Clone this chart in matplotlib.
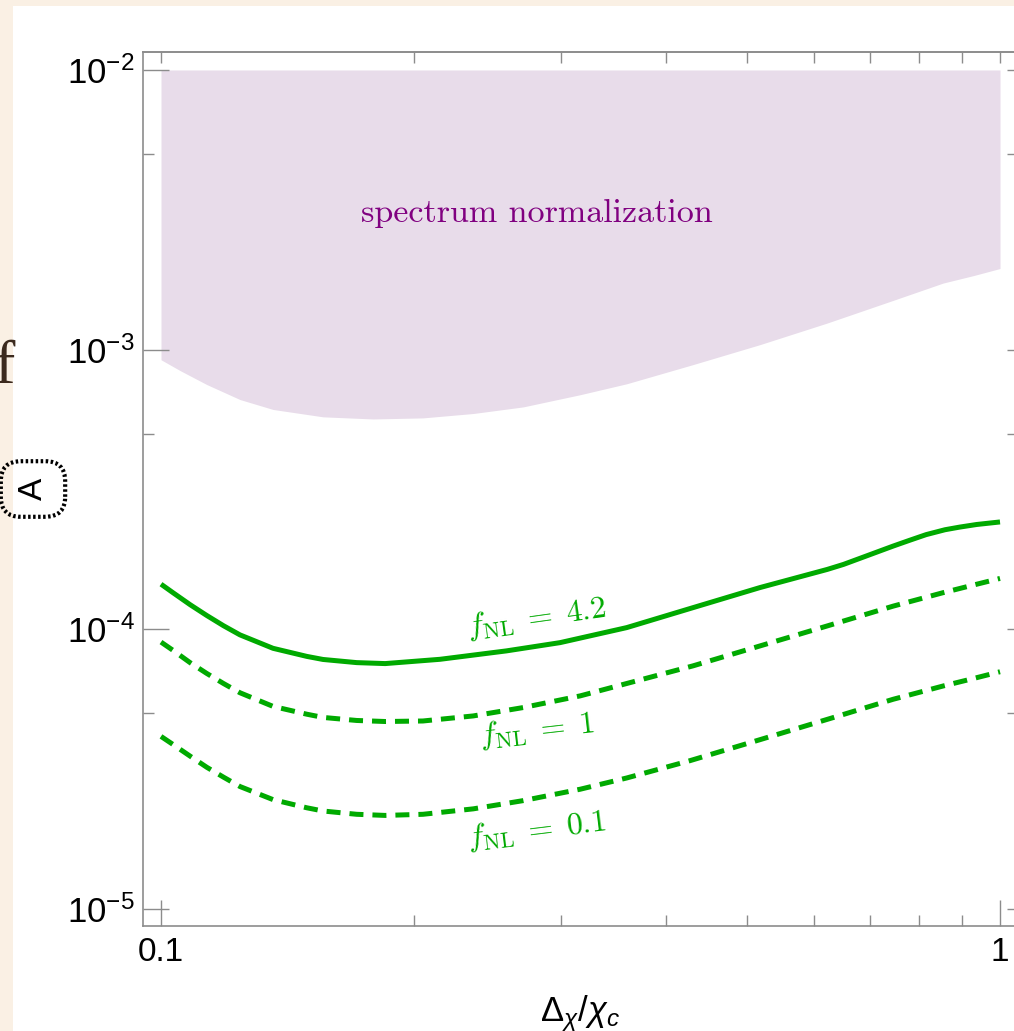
import matplotlib
matplotlib.use("Agg")
import matplotlib.pyplot as plt
from matplotlib.patches import Rectangle
from matplotlib.ticker import NullFormatter

plt.rcParams['font.family'] = ['Liberation Sans', 'DejaVu Sans']
plt.rcParams['mathtext.fontset'] = 'custom'
plt.rcParams['mathtext.rm'] = 'Liberation Sans'
plt.rcParams['mathtext.it'] = 'Liberation Sans:italic'
plt.rcParams['mathtext.bf'] = 'Liberation Sans:bold'

# --- data ---
# lower edge of the "spectrum normalization" region (upper edge is 1e-2)
band_x = [0.1, 0.1055, 0.1134, 0.1242, 0.136, 0.156, 0.179, 0.2052, 0.2356, 0.2702,
          0.316, 0.359, 0.4306, 0.5175, 0.6224, 0.7458, 0.8555, 0.93, 1.0]
band_lower = [9.2e-4, 8.4e-4, 7.5e-4, 6.63e-4, 6.11e-4, 5.75e-4, 5.65e-4, 5.70e-4,
              5.91e-4, 6.24e-4, 6.9e-4, 7.55e-4, 8.84e-4, 1.042e-3, 1.245e-3,
              1.50e-3, 1.73e-3, 1.84e-3, 1.95e-3]
band_upper = [1e-2] * len(band_x)

# f_NL = 4.2 (solid)
x_42 = [0.1, 0.1034, 0.1083, 0.1134, 0.1187, 0.1242, 0.136, 0.1492, 0.156, 0.1711,
        0.185, 0.215, 0.258, 0.299, 0.359, 0.4306, 0.5175, 0.6224, 0.6508, 0.7458,
        0.78, 0.8164, 0.86, 0.8956, 0.938, 1.0]
a_42 = [1.45e-4, 1.35e-4, 1.225e-4, 1.12e-4, 1.03e-4, 9.55e-5, 8.55e-5, 8.0e-5,
        7.8e-5, 7.6e-5, 7.54e-5, 7.81e-5, 8.37e-5, 8.96e-5, 1.014e-4, 1.195e-4,
        1.41e-4, 1.637e-4, 1.706e-4, 1.984e-4, 2.08e-4, 2.18e-4, 2.27e-4, 2.32e-4,
        2.37e-4, 2.42e-4]

# f_NL = 1 (dashed)
x_1 = [0.1, 0.1034, 0.1083, 0.1134, 0.1187, 0.1242, 0.136, 0.1492, 0.156, 0.1711,
       0.185, 0.2052, 0.2356, 0.2702, 0.316, 0.359, 0.4306, 0.5175, 0.6224, 0.7458,
       0.8555, 0.93, 1.0]
a_1 = [9.0e-5, 8.4e-5, 7.6e-5, 6.95e-5, 6.4e-5, 5.93e-5, 5.3e-5, 4.97e-5, 4.84e-5,
       4.72e-5, 4.68e-5, 4.70e-5, 4.9e-5, 5.25e-5, 5.78e-5, 6.4e-5, 7.4e-5, 8.72e-5,
       1.028e-4, 1.21e-4, 1.352e-4, 1.44e-4, 1.52e-4]

# f_NL = 0.1 (dashed)
x_01 = [0.1, 0.1034, 0.1083, 0.1134, 0.1187, 0.1242, 0.136, 0.1492, 0.156, 0.1711,
        0.185, 0.2052, 0.2356, 0.2702, 0.316, 0.359, 0.427, 0.5175, 0.6335, 0.7458,
        0.8555, 0.93, 1.0]
a_01 = [4.14e-5, 3.87e-5, 3.52e-5, 3.21e-5, 2.96e-5, 2.74e-5, 2.46e-5, 2.30e-5,
        2.24e-5, 2.18e-5, 2.16e-5, 2.18e-5, 2.28e-5, 2.44e-5, 2.68e-5, 2.94e-5,
        3.39e-5, 4.03e-5, 4.84e-5, 5.62e-5, 6.27e-5, 6.67e-5, 7.05e-5]

x_major = [0.1, 1]
x_major_labels = ['0.1', '1']
x_minor = [0.2, 0.3, 0.4, 0.5, 0.6, 0.7, 0.8, 0.9]
y_major = [1e-5, 1e-4, 1e-3, 1e-2]
y_major_labels = [r'$10^{-5}$', r'$10^{-4}$', r'$10^{-3}$', r'$10^{-2}$']
y_minor = [5e-5, 5e-4, 5e-3]

GREEN = '#00aa00'
FRAME = '#8c8c8c'

fig = plt.figure(figsize=(10.14, 10.31), dpi=100)
fig.patch.set_facecolor('#faf0e4')
# white panel of the screenshot
fig.patches.append(Rectangle((13 / 1014, 0), 1, 1 - 6 / 1031, transform=fig.transFigure,
                             facecolor='white', edgecolor='none', zorder=-1))

ax = fig.add_axes([0.14103, 0.10184, 0.86292, 0.84772])
ax.set_facecolor('white')
ax.set_xscale('log')
ax.set_yscale('log')
ax.set_xlim(0.09518, 1.0506)
ax.set_ylim(8.69e-6, 1.1594e-2)

ax.fill_between(band_x, band_lower, band_upper, color='#e8dcea', lw=0)
ax.plot(x_42, a_42, color=GREEN, lw=3.6, solid_capstyle='butt', solid_joinstyle='round')
ax.plot(x_1, a_1, color=GREEN, lw=3.6, dashes=(2.8, 1.8), dash_capstyle='butt')
ax.plot(x_01, a_01, color=GREEN, lw=3.6, dashes=(2.8, 1.8), dash_capstyle='butt')

ax.text(0.2806, 3.08e-3, 'spectrum normalization', family='cmr10', fontsize=24.5,
        color='#800080', ha='center', va='center')
lab = dict(math_fontfamily='cm', fontsize=23, color=GREEN, ha='center', va='center',
           rotation_mode='anchor')
ax.text(0.2806, 1.10e-4, r'$f_{\rm NL}\;=\;4.2$', rotation=8, **lab)
ax.text(0.2806, 4.35e-5, r'$f_{\rm NL}\;=\;1$', rotation=6.5, **lab)
ax.text(0.2806, 1.92e-5, r'$f_{\rm NL}\;=\;0.1$', rotation=7, **lab)

# ticks: long on bottom/left, short on top/right
ax.set_xticks(x_major, labels=x_major_labels)
ax.set_xticks(x_minor, minor=True)
ax.set_yticks(y_major, labels=y_major_labels)
ax.set_yticks(y_minor, minor=True)
ax.xaxis.set_minor_formatter(NullFormatter())
ax.yaxis.set_minor_formatter(NullFormatter())
ax.tick_params(which='major', direction='in', length=18.7, width=1, color=FRAME,
               labelsize=24, top=False, right=False)
ax.tick_params(axis='y', which='major', labelsize=25)
ax.tick_params(which='minor', direction='in', length=8, width=1, color=FRAME,
               top=False, right=False)
ax.tick_params(axis='x', pad=8)
ax.tick_params(axis='y', pad=6)

secx = ax.secondary_xaxis('top')
secx.set_xticks(x_major)
secx.set_xticks(x_minor, minor=True)
secx.xaxis.set_major_formatter(NullFormatter())
secx.xaxis.set_minor_formatter(NullFormatter())
secx.tick_params(which='both', direction='in', length=8, width=1, color=FRAME)
secy = ax.secondary_yaxis('right')
secy.set_yticks(y_major)
secy.set_yticks(y_minor, minor=True)
secy.yaxis.set_major_formatter(NullFormatter())
secy.yaxis.set_minor_formatter(NullFormatter())
secy.tick_params(which='both', direction='in', length=8, width=1, color=FRAME)

for a in (ax, secx, secy):
    for s in a.spines.values():
        s.set_color(FRAME)
        s.set_linewidth(1.2)

ax.set_xlabel(r'$\Delta_\chi/\chi_c$', fontsize=25)
ax.xaxis.set_label_coords(0.5, -(1021.7 - 926) / 874)
ax.xaxis.label.set_va('baseline')

ax.set_ylabel('A', fontsize=24, va='center',
              bbox=dict(boxstyle='round,pad=0.5,rounding_size=0.6', fc='none',
                        ec='black', lw=3, ls=(0, (0.6, 0.6))))
ax.yaxis.set_label_coords((33 - 143) / 875, 0.5)

# stray glyph from the page behind the screenshot
fig.text(-6 / 1014, 1 - 383 / 1031, 'f', family='Liberation Serif', fontsize=44,
         color='#3c2a1e', ha='left', va='baseline')

fig.savefig('out.png', dpi=100, facecolor=fig.get_facecolor())
